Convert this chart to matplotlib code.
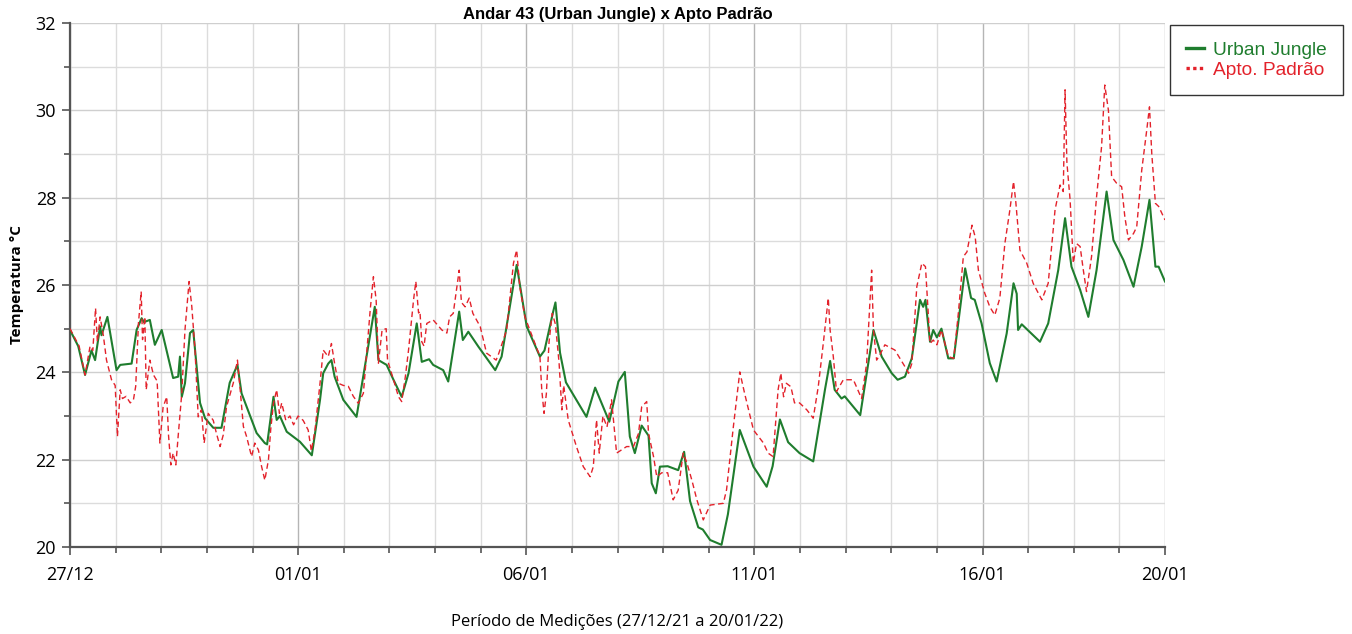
import numpy as np
import matplotlib
matplotlib.use("Agg")
import matplotlib.pyplot as plt
from matplotlib.lines import Line2D
from matplotlib.ticker import MultipleLocator, FixedLocator

# dias contados a partir de 27/12 (0 = 27/12, 24 = 20/01)
uj_day = [0.00, 0.18, 0.33, 0.47, 0.55, 0.66, 0.69, 0.82, 1.02, 1.10, 1.35, 1.46, 1.57, 1.62,
          1.75, 1.86, 2.01, 2.26, 2.37, 2.41, 2.45, 2.52, 2.63, 2.70, 2.85, 2.96, 3.14, 3.32,
          3.50, 3.67, 3.76, 4.09, 4.27, 4.32, 4.46, 4.53, 4.60, 4.75, 5.04, 5.30, 5.48, 5.55,
          5.66, 5.73, 5.80, 5.99, 6.28, 6.50, 6.68, 6.76, 6.94, 7.09, 7.27, 7.42, 7.60, 7.71,
          7.87, 7.96, 8.18, 8.29, 8.53, 8.61, 8.73, 8.95, 9.32, 9.46, 9.79, 10.01, 10.30, 10.40,
          10.59, 10.64, 10.74, 10.87, 11.32, 11.51, 11.65, 11.82, 12.02, 12.16, 12.27, 12.38,
          12.53, 12.68, 12.75, 12.84, 12.93, 13.10, 13.33, 13.46, 13.59, 13.77, 13.87, 14.03,
          14.28, 14.42, 14.68, 14.98, 15.27, 15.40, 15.56, 15.74, 15.99, 16.29, 16.55, 16.66,
          16.76, 16.91, 16.98, 17.32, 17.61, 17.79, 18.01, 18.14, 18.30, 18.45, 18.63, 18.70,
          18.75, 18.85, 18.92, 19.00, 19.10, 19.25, 19.37, 19.62, 19.75, 19.83, 19.98, 20.16,
          20.31, 20.53, 20.68, 20.75, 20.78, 20.86, 20.96, 21.26, 21.44, 21.66, 21.81, 21.95,
          22.14, 22.32, 22.50, 22.72, 22.87, 23.09, 23.31, 23.49, 23.66, 23.79, 23.86, 24.00]
uj_temp = [24.97, 24.60, 23.94, 24.50, 24.28, 25.05, 24.85, 25.27, 24.05, 24.17, 24.20, 24.97,
           25.24, 25.15, 25.20, 24.63, 24.97, 23.87, 23.90, 24.36, 23.44, 23.75, 24.90, 24.97,
           23.30, 22.95, 22.73, 22.73, 23.76, 24.17, 23.52, 22.61, 22.38, 22.35, 23.44, 22.91,
           23.00, 22.64, 22.41, 22.10, 23.37, 23.98, 24.20, 24.28, 23.90, 23.37, 22.98, 24.36,
           25.50, 24.28, 24.17, 23.83, 23.44, 23.98, 25.12, 24.24, 24.30, 24.17, 24.05, 23.79,
           25.39, 24.74, 24.93, 24.59, 24.05, 24.36, 26.46, 25.05, 24.36, 24.50, 25.39, 25.60,
           24.45, 23.77, 22.98, 23.65, 23.30, 22.87, 23.79, 24.01, 22.53, 22.15, 22.78, 22.55,
           21.46, 21.23, 21.84, 21.85, 21.76, 22.18, 21.05, 20.45, 20.40, 20.16, 20.05, 20.75,
           22.68, 21.84, 21.38, 21.85, 22.92, 22.40, 22.15, 21.96, 23.62, 24.26, 23.60, 23.40,
           23.45, 23.02, 24.97, 24.36, 23.98, 23.83, 23.90, 24.32, 25.66, 25.50, 25.66, 24.70,
           24.97, 24.80, 25.00, 24.32, 24.32, 26.38, 25.70, 25.66, 25.12, 24.21, 23.79, 24.89,
           26.04, 25.80, 24.97, 25.10, 25.00, 24.70, 25.12, 26.34, 27.53, 26.42, 25.89, 25.27,
           26.34, 28.14, 27.03, 26.57, 25.96, 26.88, 27.95, 26.42, 26.42, 26.08]

ap_day = [0.00, 0.20, 0.33, 0.44, 0.50, 0.56, 0.60, 0.66, 0.73, 0.80, 0.91, 0.99, 1.04, 1.10,
          1.15, 1.23, 1.32, 1.39, 1.44, 1.50, 1.56, 1.59, 1.64, 1.67, 1.75, 1.83, 1.91, 1.97,
          2.04, 2.12, 2.16, 2.21, 2.26, 2.32, 2.37, 2.45, 2.52, 2.61, 2.67, 2.74, 2.81, 2.88,
          2.94, 3.03, 3.14, 3.21, 3.29, 3.36, 3.43, 3.58, 3.67, 3.73, 3.80, 3.87, 3.98, 4.05,
          4.13, 4.20, 4.27, 4.35, 4.40, 4.46, 4.53, 4.59, 4.64, 4.73, 4.82, 4.90, 5.00, 5.11,
          5.22, 5.29, 5.37, 5.48, 5.55, 5.66, 5.73, 5.80, 5.88, 5.99, 6.10, 6.21, 6.32, 6.43,
          6.58, 6.65, 6.71, 6.76, 6.84, 6.93, 6.96, 7.09, 7.20, 7.27, 7.35, 7.42, 7.53, 7.58,
          7.64, 7.67, 7.71, 7.76, 7.82, 7.96, 8.15, 8.26, 8.32, 8.40, 8.53, 8.58, 8.66, 8.75,
          8.83, 8.99, 9.13, 9.34, 9.40, 9.57, 9.72, 9.79, 9.86, 9.97, 10.19, 10.30, 10.34, 10.39,
          10.44, 10.50, 10.57, 10.64, 10.72, 10.78, 10.82, 10.92, 11.10, 11.25, 11.40, 11.47,
          11.54, 11.60, 11.68, 11.77, 11.87, 11.98, 12.20, 12.35, 12.46, 12.53, 12.64, 12.68,
          12.79, 12.86, 12.97, 13.10, 13.22, 13.33, 13.44, 13.52, 13.63, 13.74, 13.88, 14.03,
          14.32, 14.39, 14.54, 14.68, 14.79, 14.98, 15.20, 15.30, 15.41, 15.52, 15.58, 15.64,
          15.70, 15.80, 15.88, 15.99, 16.15, 16.29, 16.40, 16.51, 16.62, 16.66, 16.73, 16.80,
          16.95, 17.17, 17.35, 17.46, 17.57, 17.61, 17.68, 17.75, 17.86, 18.08, 18.30, 18.38,
          18.45, 18.56, 18.67, 18.75, 18.85, 18.92, 19.00, 19.10, 19.25, 19.37, 19.47, 19.58,
          19.66, 19.77, 19.84, 19.91, 20.05, 20.16, 20.27, 20.38, 20.49, 20.60, 20.68, 20.73,
          20.82, 20.97, 21.11, 21.30, 21.44, 21.59, 21.70, 21.77, 21.81, 21.85, 21.92, 21.99,
          22.06, 22.14, 22.21, 22.28, 22.39, 22.50, 22.61, 22.68, 22.76, 22.83, 22.94, 23.05,
          23.12, 23.20, 23.31, 23.38, 23.49, 23.60, 23.66, 23.71, 23.79, 23.86, 24.00]
ap_temp = [25.00, 24.60, 23.94, 24.60, 24.50, 25.47, 24.70, 25.27, 24.85, 24.28, 23.83, 23.70,
           22.53, 23.60, 23.40, 23.45, 23.30, 23.37, 23.68, 25.12, 25.85, 24.75, 25.27, 23.60,
           24.28, 23.94, 23.80, 22.38, 23.20, 23.44, 22.55, 21.88, 22.15, 21.88, 22.53, 23.52,
           24.97, 26.08, 25.50, 24.51, 22.98, 23.14, 22.38, 23.06, 22.90, 22.60, 22.30, 22.57,
           23.21, 23.76, 24.28, 23.60, 22.76, 22.53, 22.07, 22.38, 22.22, 21.84, 21.53, 22.00,
           22.70, 23.29, 23.60, 23.06, 23.30, 22.90, 23.00, 22.80, 23.00, 22.90, 22.68, 22.20,
           22.68, 23.75, 24.51, 24.36, 24.66, 24.20, 23.75, 23.70, 23.68, 23.45, 23.29, 23.52,
           25.43, 26.19, 25.66, 24.21, 24.97, 25.00, 24.28, 23.83, 23.44, 23.33, 23.90, 24.51,
           25.66, 26.08, 25.36, 25.40, 24.70, 24.60, 25.12, 25.20, 24.97, 24.90, 25.27, 25.35,
           26.34, 25.60, 25.50, 25.70, 25.35, 25.05, 24.44, 24.28, 24.44, 24.97, 26.50, 26.80,
           25.95, 25.27, 24.66, 24.36, 23.60, 23.06, 23.50, 24.70, 25.35, 25.10, 24.21, 23.14,
           23.70, 22.91, 22.30, 21.84, 21.61, 21.84, 22.91, 22.15, 23.00, 22.75, 23.37, 22.15,
           22.30, 22.30, 22.60, 23.21, 23.33, 22.60, 22.07, 21.61, 21.70, 21.70, 21.08, 21.30,
           22.15, 21.93, 21.53, 21.08, 20.62, 20.96, 21.00, 21.31, 22.76, 24.01, 23.50, 22.68,
           22.38, 22.15, 22.07, 23.60, 23.98, 23.44, 23.75, 23.67, 23.30, 23.30, 23.14, 22.95,
           23.67, 24.66, 25.70, 24.97, 24.36, 23.56, 23.83, 23.83, 23.40, 24.20, 26.34, 24.97,
           24.28, 24.40, 24.63, 24.51, 24.13, 23.98, 24.20, 25.96, 26.50, 26.42, 24.66, 24.74,
           24.63, 24.97, 24.36, 24.32, 25.35, 26.65, 26.76, 27.37, 27.10, 26.34, 25.81, 25.50,
           25.31, 25.70, 26.95, 27.72, 28.37, 27.90, 26.80, 26.50, 26.04, 25.66, 26.04, 27.72,
           28.29, 28.14, 30.47, 28.80, 27.95, 26.50, 26.95, 26.88, 26.34, 25.85, 26.65, 28.02,
           29.17, 30.58, 30.00, 28.48, 28.33, 28.25, 27.56, 27.03, 27.18, 27.33, 28.63, 29.55,
           30.08, 29.01, 27.87, 27.80, 27.49]

tick_days = [0, 5, 10, 15, 20, 24]
tick_labels = ["27/12", "01/01", "06/01", "11/01", "16/01", "20/01"]

green = "#1f7d2e"
red = "#e3222b"

fig = plt.figure(figsize=(13.52, 6.34), dpi=100)
ax = fig.add_axes([70 / 1352, 87 / 634, 1095 / 1352, 524 / 634])

ax.plot(uj_day, uj_temp, color=green, lw=1.5, zorder=3)
ax.plot(ap_day, ap_temp, color=red, lw=1.0, ls=(0, (4, 2.5)), zorder=4)

ax.set_xlim(0, 24)
ax.set_ylim(20, 32)

ax.xaxis.set_major_locator(FixedLocator(tick_days))
ax.set_xticklabels(tick_labels)
ax.xaxis.set_minor_locator(MultipleLocator(1))
ax.yaxis.set_major_locator(MultipleLocator(2))
ax.yaxis.set_minor_locator(MultipleLocator(1))

ax.grid(which="minor", color="#dcdcdc", lw=1.0)
ax.grid(which="major", axis="y", color="#cfcfcf", lw=1.0)
ax.grid(which="major", axis="x", color="#b5b5b5", lw=1.0)
ax.set_axisbelow(True)

for s in ["top", "right"]:
    ax.spines[s].set_visible(False)
for s in ["left", "bottom"]:
    ax.spines[s].set_color("#555555")
    ax.spines[s].set_linewidth(1.6)

ax.tick_params(which="both", direction="out", color="#555555", width=1.2)
ax.tick_params(which="major", length=6, labelsize=13, pad=4)
ax.tick_params(which="minor", length=4)
for lab in ax.get_xticklabels() + ax.get_yticklabels():
    lab.set_fontfamily("Open Sans")
ax.tick_params(axis="x", pad=8)

ax.set_ylabel("Temperatura °C", fontsize=11, fontweight="bold", family="Open Sans", labelpad=8)
ax.set_xlabel("Período de Medições (27/12/21 a 20/01/22)", fontsize=12, family="Open Sans", labelpad=21)
ax.set_title("Andar 43 (Urban Jungle) x Apto Padrão", fontsize=12, fontweight="bold",
             family="Liberation Sans", pad=3)

handles = [Line2D([], [], color=green, lw=2.4),
           Line2D([], [], color=red, lw=2.4, ls=(0, (1, 1)))]
leg = fig.legend(handles, ["Urban Jungle", "Apto. Padrão"], loc="upper left",
                 bbox_to_anchor=(1170 / 1352, 1 - 25 / 634), frameon=True, fancybox=False,
                 edgecolor="black", handlelength=0.9, handletextpad=0.5, borderpad=0.85,
                 borderaxespad=0, labelspacing=0.15,
                 prop={"family": "Liberation Sans", "size": 13.8})
leg.get_frame().set_linewidth(1.0)
leg.get_texts()[0].set_color(green)
leg.get_texts()[1].set_color(red)

fig.savefig("out.png", dpi=100)
